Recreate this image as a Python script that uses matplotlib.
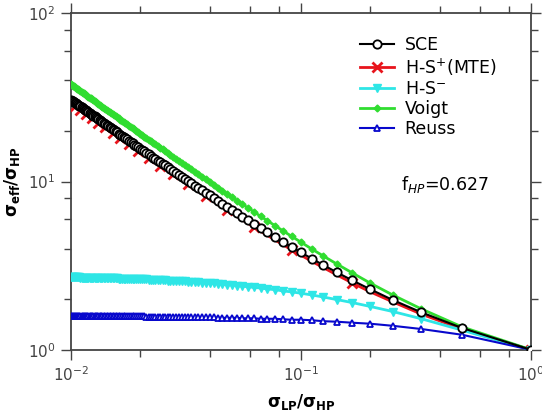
import matplotlib
matplotlib.use('Agg')
import numpy as np
import matplotlib.pyplot as plt
from matplotlib.ticker import LogLocator, NullFormatter

# contrast sigma_HP/sigma_LP of every plotted point (x = 1/contrast)
contrast = [100, 99, 98, 97, 96, 95, 94, 93, 92, 91,
            90, 89, 88, 87, 86, 85, 84, 83, 82, 81,
            80, 79, 78, 77, 76, 75, 74, 73, 72, 71,
            70, 69, 68, 67, 66, 65, 64, 63, 62, 61,
            60, 59, 58, 57, 56, 55, 54, 53, 52, 51,
            50, 49, 48, 47, 46, 45, 44, 43, 42, 41,
            40, 39, 38, 37, 36, 35, 34, 33, 32, 31,
            30, 29, 28, 27, 26, 25, 24, 23, 22, 21,
            20, 19, 18, 17, 16, 15, 14, 13, 12, 11,
            10, 9, 8, 7, 6, 5, 4, 3, 2, 1]

sce = [30.6, 30.3, 30.0, 29.8, 29.5, 29.2, 28.9, 28.6, 28.3, 28.0,
       27.7, 27.4, 27.1, 26.8, 26.5, 26.2, 25.9, 25.6, 25.3, 25.0,
       24.7, 24.4, 24.1, 23.8, 23.5, 23.2, 22.9, 22.6, 22.3, 22.0,
       21.7, 21.4, 21.1, 20.8, 20.5, 20.2, 19.9, 19.6, 19.3, 19.0,
       18.7, 18.4, 18.1, 17.8, 17.5, 17.2, 16.9, 16.6, 16.3, 16.0,
       15.7, 15.4, 15.1, 14.8, 14.5, 14.2, 13.9, 13.6, 13.3, 13.1,
       12.8, 12.5, 12.2, 11.9, 11.6, 11.3, 11.0, 10.7, 10.4, 10.1,
       9.77, 9.47, 9.17, 8.87, 8.58, 8.28, 7.98, 7.68, 7.38, 7.08,
       6.78, 6.49, 6.19, 5.89, 5.59, 5.29, 4.99, 4.69, 4.39, 4.09,
       3.79, 3.49, 3.19, 2.89, 2.59, 2.29, 1.98, 1.67, 1.35, 1.00]

hs_upper = [29.21, 28.93, 28.65, 28.36, 28.08, 27.79, 27.51, 27.23, 26.94, 26.66,
            26.37, 26.09, 25.81, 25.52, 25.24, 24.95, 24.67, 24.39, 24.10, 23.82,
            23.53, 23.25, 22.97, 22.68, 22.40, 22.11, 21.83, 21.55, 21.26, 20.98,
            20.69, 20.41, 20.13, 19.84, 19.56, 19.27, 18.99, 18.71, 18.42, 18.14,
            17.85, 17.57, 17.29, 17.00, 16.72, 16.43, 16.15, 15.87, 15.58, 15.30,
            15.01, 14.73, 14.45, 14.16, 13.88, 13.59, 13.31, 13.03, 12.74, 12.46,
            12.17, 11.89, 11.61, 11.32, 11.04, 10.75, 10.47, 10.19, 9.90, 9.62,
            9.33, 9.05, 8.76, 8.48, 8.20, 7.91, 7.63, 7.34, 7.06, 6.78,
            6.49, 6.21, 5.92, 5.64, 5.35, 5.07, 4.79, 4.50, 4.22, 3.93,
            3.65, 3.36, 3.08, 2.79, 2.50, 2.21, 1.93, 1.63, 1.33, 1.00]

hs_lower = [2.70, 2.70, 2.70, 2.70, 2.70, 2.70, 2.70, 2.70, 2.70, 2.69,
            2.69, 2.69, 2.69, 2.69, 2.69, 2.69, 2.69, 2.69, 2.69, 2.68,
            2.68, 2.68, 2.68, 2.68, 2.68, 2.68, 2.67, 2.67, 2.67, 2.67,
            2.67, 2.67, 2.67, 2.66, 2.66, 2.66, 2.66, 2.66, 2.65, 2.65,
            2.65, 2.65, 2.65, 2.64, 2.64, 2.64, 2.64, 2.63, 2.63, 2.63,
            2.63, 2.62, 2.62, 2.62, 2.61, 2.61, 2.61, 2.60, 2.60, 2.59,
            2.59, 2.59, 2.58, 2.58, 2.57, 2.56, 2.56, 2.55, 2.55, 2.54,
            2.53, 2.52, 2.52, 2.51, 2.50, 2.49, 2.48, 2.47, 2.45, 2.44,
            2.43, 2.41, 2.39, 2.37, 2.35, 2.33, 2.30, 2.28, 2.24, 2.21,
            2.17, 2.12, 2.06, 1.99, 1.91, 1.81, 1.69, 1.53, 1.31, 1.00]

voigt = [37.93, 37.56, 37.18, 36.81, 36.44, 36.06, 35.69, 35.32, 34.94, 34.57,
         34.20, 33.82, 33.45, 33.08, 32.71, 32.33, 31.96, 31.59, 31.21, 30.84,
         30.47, 30.09, 29.72, 29.35, 28.97, 28.60, 28.23, 27.86, 27.48, 27.11,
         26.74, 26.36, 25.99, 25.62, 25.24, 24.87, 24.50, 24.13, 23.75, 23.38,
         23.01, 22.63, 22.26, 21.89, 21.52, 21.14, 20.77, 20.40, 20.02, 19.65,
         19.28, 18.90, 18.53, 18.16, 17.78, 17.41, 17.04, 16.67, 16.29, 15.92,
         15.55, 15.17, 14.80, 14.43, 14.06, 13.68, 13.31, 12.94, 12.56, 12.19,
         11.82, 11.44, 11.07, 10.70, 10.33, 9.95, 9.58, 9.21, 8.83, 8.46,
         8.09, 7.71, 7.34, 6.97, 6.60, 6.22, 5.85, 5.48, 5.10, 4.73,
         4.36, 3.98, 3.61, 3.24, 2.87, 2.49, 2.12, 1.75, 1.37, 1.00]

reuss = [1.59, 1.59, 1.59, 1.59, 1.59, 1.58, 1.58, 1.58, 1.58, 1.58,
         1.58, 1.58, 1.58, 1.58, 1.58, 1.58, 1.58, 1.58, 1.58, 1.58,
         1.58, 1.58, 1.58, 1.58, 1.58, 1.58, 1.58, 1.58, 1.58, 1.58,
         1.58, 1.58, 1.58, 1.58, 1.58, 1.58, 1.58, 1.58, 1.58, 1.58,
         1.58, 1.58, 1.58, 1.58, 1.58, 1.58, 1.58, 1.58, 1.58, 1.58,
         1.58, 1.58, 1.58, 1.57, 1.57, 1.57, 1.57, 1.57, 1.57, 1.57,
         1.57, 1.57, 1.57, 1.57, 1.57, 1.57, 1.57, 1.57, 1.57, 1.56,
         1.56, 1.56, 1.56, 1.56, 1.56, 1.56, 1.56, 1.55, 1.55, 1.55,
         1.55, 1.55, 1.54, 1.54, 1.54, 1.53, 1.53, 1.53, 1.52, 1.51,
         1.51, 1.50, 1.48, 1.47, 1.45, 1.43, 1.39, 1.33, 1.23, 1.00]

x = 1.0 / np.array(contrast, dtype=float)

fig = plt.figure(figsize=(5.42, 4.16), dpi=100)
ax = fig.add_axes([0.131, 0.159, 0.849, 0.809])

ax.plot(x, hs_upper, color='#e8141c', lw=2, marker='x', ms=7, mew=2,
        markevery=(4, 5), label='H-S$^{+}$(MTE)', zorder=3)
ax.plot(x, sce, color='black', lw=1.5, marker='o', ms=6, mfc='white',
        mew=1.3, label='SCE', zorder=4)
ax.plot(x, hs_lower, color='#2ee6e6', lw=2, marker='v', ms=5.5,
        label='H-S$^{-}$', zorder=3)
ax.plot(x, voigt, color='#30dd30', lw=2, marker='D', ms=3.5,
        label='Voigt', zorder=3)
ax.plot(x, reuss, color='#0808cc', lw=1.5, marker='^', ms=5, mfc='white',
        mew=1.3, label='Reuss', zorder=3)

ax.set_xscale('log')
ax.set_yscale('log')
ax.set_xlim(1e-2, 1)
ax.set_ylim(1, 100)
ax.xaxis.set_minor_locator(LogLocator(base=10, subs=(2, 4, 6, 8)))
ax.yaxis.set_minor_locator(LogLocator(base=10, subs=(2, 4, 6, 8)))
ax.xaxis.set_minor_formatter(NullFormatter())
ax.yaxis.set_minor_formatter(NullFormatter())
ax.tick_params(which='both', direction='out', top=True, right=True,
               colors='#444444', labelsize=11)
ax.tick_params(which='major', length=7, width=1, pad=4)
ax.tick_params(which='minor', length=5, width=1)
for s in ax.spines.values():
    s.set_color('#444444')
    s.set_linewidth(1.3)

ax.set_xlabel(r'$\mathbf{\sigma_{LP}/\sigma_{HP}}$', fontsize=12, labelpad=6)
ax.set_ylabel(r'$\mathbf{\sigma_{eff}/\sigma_{HP}}$', fontsize=12, labelpad=4)

# legend in the order of the reference
h, l = ax.get_legend_handles_labels()
order = [1, 0, 2, 3, 4]
ax.legend([h[i] for i in order], [l[i] for i in order], loc='upper left',
          bbox_to_anchor=(0.627, 0.932), frameon=False, fontsize=12.5,
          borderpad=0, borderaxespad=0, handlelength=2.0, handletextpad=0.6,
          labelspacing=0.12)
ax.text(0.717, 0.49, 'f$_{HP}$=0.627', transform=ax.transAxes,
        fontsize=12.5, va='center', ha='left')

plt.savefig('out.png')
